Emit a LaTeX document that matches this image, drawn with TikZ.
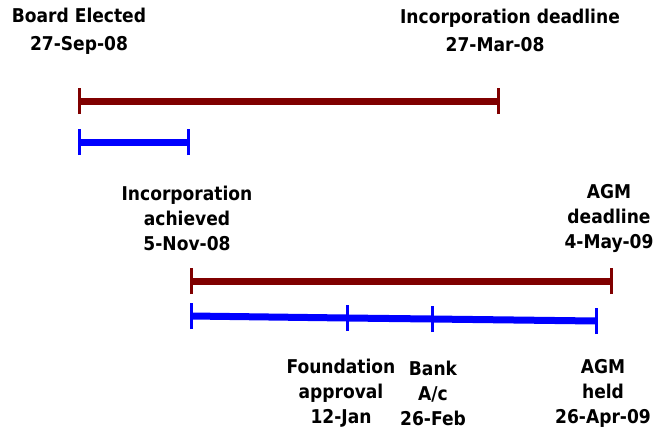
\documentclass[tikz,border=0pt]{standalone}
\usepackage{fontspec}
\setmainfont{DejaVu Sans Condensed}[BoldFont={DejaVu Sans Condensed Bold}]
\definecolor{maroonbar}{RGB}{128,0,0}
\definecolor{bluebar}{RGB}{0,0,255}
\begin{document}
\begin{tikzpicture}[x=1pt,y=-1pt,
  lbl/.style={font=\bfseries\fontsize{19}{25}\selectfont,align=center,inner sep=0pt,text=black},
  bar/.style={line width=7pt},
  tick/.style={line width=3pt},
  mar/.style={draw=maroonbar},
  blu/.style={draw=bluebar}]
\useasboundingbox (0,0) rectangle (655,428);
% labels
\node[lbl,font=\bfseries\fontsize{19}{28}\selectfont] (board) at (79,31) {Board Elected\\27-Sep-08};
\node[lbl] (incdl) at (510,18) {Incorporation deadline};
\node[lbl] (incdldate) at (495,45) {27-Mar-08};
\node[lbl] (incach) at (187,218) {Incorporation\\achieved\\5-Nov-08};
\node[lbl] (agmdl) at (609,218) {AGM\\deadline\\4-May-09};
\node[lbl] (found) at (341,393) {Foundation\\approval\\12-Jan};
\node[lbl] (bank) at (433,393) {Bank\\A/c\\26-Feb};
\node[lbl] (agmheld) at (603,393) {AGM\\held\\26-Apr-09};
% timeline 1
\coordinate (m1a) at (79,101);
\coordinate (m1b) at (498,101);
\coordinate (b1a) at (79,142);
\coordinate (b1b) at (188,142);
\draw[mar,bar] (m1a) -- (m1b);
\draw[mar,tick] ([yshift=-13pt]m1a) -- ([yshift=13pt]m1a);
\draw[mar,tick] ([yshift=-13pt]m1b) -- ([yshift=13pt]m1b);
\draw[blu,bar] (b1a) -- (b1b);
\draw[blu,tick] ([yshift=-13pt]b1a) -- ([yshift=13pt]b1a);
\draw[blu,tick] ([yshift=-13pt]b1b) -- ([yshift=13pt]b1b);
% timeline 2
\coordinate (m2a) at (191,281);
\coordinate (m2b) at (611,281);
\draw[mar,bar] (m2a) -- (m2b);
\draw[mar,tick] ([yshift=-13pt]m2a) -- ([yshift=13pt]m2a);
\draw[mar,tick] ([yshift=-13pt]m2b) -- ([yshift=13pt]m2b);
\coordinate (b2a) at (191,316);
\coordinate (b2f) at (347,318);
\coordinate (b2k) at (432,319);
\coordinate (b2b) at (596,321);
\draw[blu,bar] (b2a) -- (b2f) -- (b2k) -- (b2b);
\foreach \c in {b2a,b2f,b2k,b2b}
  \draw[blu,tick] ([yshift=-13pt]\c) -- ([yshift=13pt]\c);
\end{tikzpicture}
\end{document}
